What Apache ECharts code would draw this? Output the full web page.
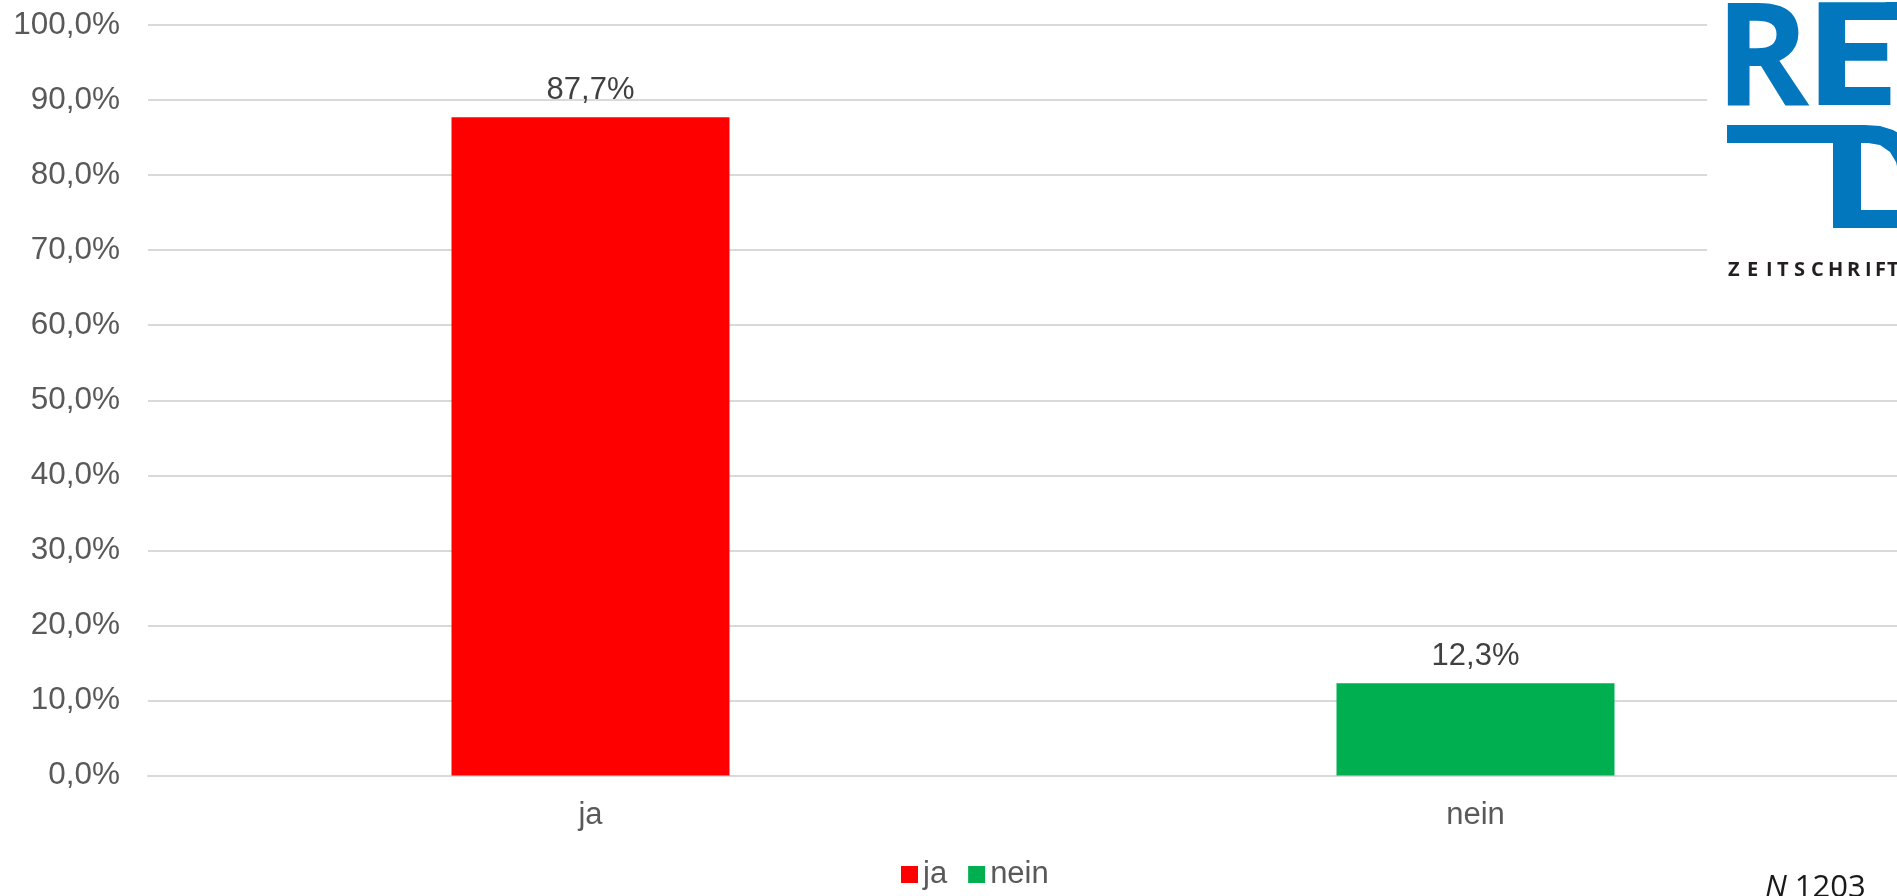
<!DOCTYPE html>
<html>
<head>
<meta charset="utf-8">
<script src="https://cdn.jsdelivr.net/npm/echarts@6/dist/echarts.min.js"></script>
<style>html,body{margin:0;padding:0;background:#fff;}#c{width:1897px;height:896px;}</style>
</head>
<body>
<div id="c"></div>
<script>
var categories = ['ja', 'nein'];
var seriesNames = ['ja', 'nein'];
var values = [87.7, 12.3];
var colors = ['#FF0000', '#00B050'];
var sampleNote = '1203';

var chart = echarts.init(document.getElementById('c'));
function pct(v) { return v.toFixed(1).replace('.', ',') + '%'; }

var series = seriesNames.map(function (name, i) {
  var d = categories.map(function (c, j) { return j === i ? values[i] : '-'; });
  return {
    name: name,
    type: 'bar',
    data: d,
    barWidth: 278,
    barGap: '-100%',
    itemStyle: { color: colors[i] },
    label: {
      show: true,
      position: 'top',
      distance: 11,
      formatter: function (p) { return pct(p.value); },
      fontFamily: 'Liberation Sans',
      fontSize: 31,
      color: '#404040'
    }
  };
});

var blue = '#0277BE';
var zLetters = 'ZEITSCHRIFT'.split('');
var zX = [1728, 1747, 1766, 1777, 1794, 1811, 1828, 1847, 1865, 1875, 1887];

function bigLetter(ch, x, sx) {
  return { type: 'text', z: 101, x: x, y: 64, scaleX: sx || 1, style: { text: ch, fontSize: 143, fontWeight: 'bold', fontFamily: 'Open Sans', fill: blue, verticalAlign: 'middle' } };
}

var graphic = [
  { type: 'rect', z: 100, shape: { x: 1707, y: 0, width: 200, height: 296 }, style: { fill: '#fff' } },
  bigLetter('R', 1715),
  bigLetter('E', 1803, 1.22),
  bigLetter('T', 1883),
  { type: 'polygon', z: 101, shape: { points: [[1727,125],[1865,125],[1880,126],[1893,130],[1905,137],[1910,145],[1910,228],[1833,228],[1833,143],[1727,143]] }, style: { fill: blue } },
  { type: 'polygon', z: 102, shape: { points: [[1861,143],[1868,143],[1880,145],[1890,152],[1896,162],[1899,175],[1900,210],[1861,210]] }, style: { fill: '#fff' } },
  {
    type: 'text', z: 101, x: 1765, y: 888,
    style: {
      text: '{i|N} ' + sampleNote,
      verticalAlign: 'middle',
      fontSize: 31,
      fontFamily: 'Open Sans',
      fill: '#1a1a1a',
      rich: { i: { fontStyle: 'italic', fontFamily: 'Open Sans', fontSize: 31, fill: '#1a1a1a' } }
    }
  }
];
zLetters.forEach(function (ch, i) {
  graphic.push({ type: 'text', z: 101, x: zX[i], y: 270, style: { text: ch, fontSize: 20, fontWeight: 'bold', fontFamily: 'Open Sans', fill: '#231F20', verticalAlign: 'middle' } });
});

chart.setOption({
  animation: false,
  backgroundColor: '#fff',
  grid: { left: 148, width: 1770, top: 25, bottom: 120.5, containLabel: false, outerBoundsMode: 'none' },
  legend: {
    data: seriesNames,
    left: 896,
    top: 854,
    itemWidth: 17,
    itemHeight: 17,
    itemGap: 21,
    icon: 'rect',
    textStyle: { fontFamily: 'Liberation Sans', fontSize: 31, color: '#595959' }
  },
  xAxis: {
    type: 'category',
    data: categories,
    axisLine: { show: true, lineStyle: { color: '#D9D9D9', width: 2 } },
    axisTick: { show: false },
    axisLabel: { margin: 24, fontFamily: 'Liberation Sans', fontSize: 31, color: '#595959' }
  },
  yAxis: {
    type: 'value',
    min: 0,
    max: 100,
    interval: 10,
    axisLine: { show: false },
    axisTick: { show: false },
    splitLine: { lineStyle: { color: '#D9D9D9', width: 2 } },
    axisLabel: { margin: 28, fontFamily: 'Liberation Sans', fontSize: 31.5, color: '#595959', formatter: function (v) { return pct(v); } }
  },
  graphic: graphic,
  series: series
});
</script>
</body>
</html>
